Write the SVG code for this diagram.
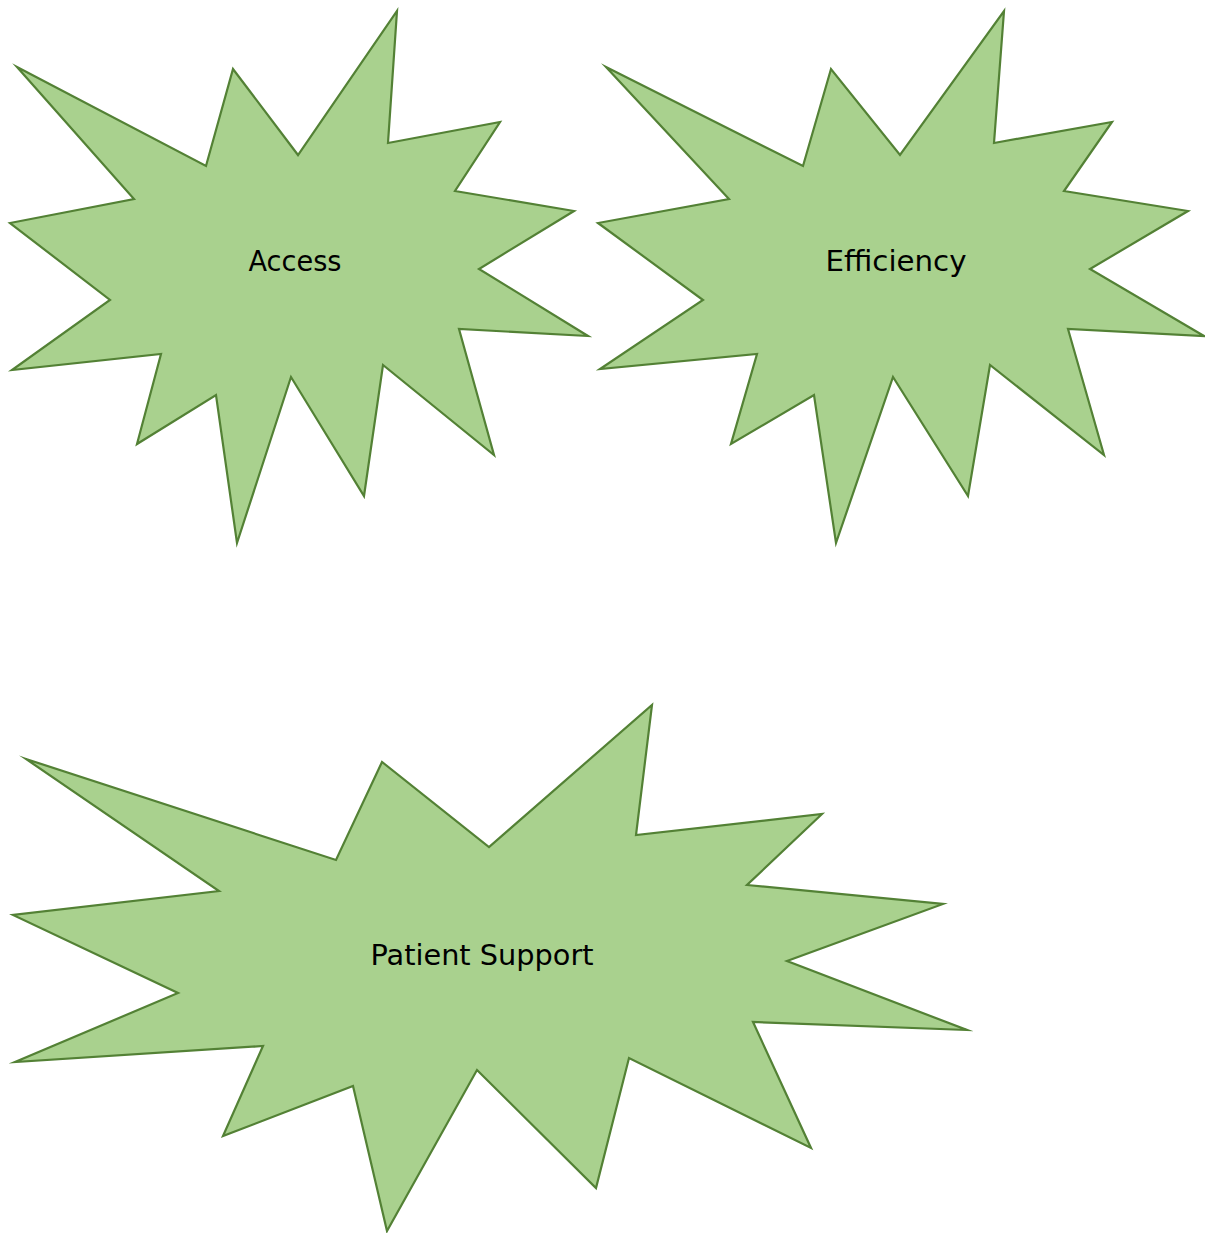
<svg xmlns="http://www.w3.org/2000/svg" width="1205" height="1233" viewBox="0 0 1205 1233">
  <style>
    .burst { fill: #a9d18e; stroke: #538135; stroke-width: 2.2; stroke-linejoin: miter; stroke-miterlimit: 20; }
    .label { font-family: "DejaVu Sans", "Liberation Sans", sans-serif; font-size: 28px; fill: #000000; text-anchor: middle; }
  </style>
  <rect width="1205" height="1233" fill="#ffffff"/>
  <g id="node-access">
    <polygon class="burst" points="17,67 206,166 233,69 298,155 397,11 388,143 500,122 455,191 574,211 479,269 588,336 459,329 494,455 383,365 364,496 291,377 237,543 216,395 137,444 161,354 12,370 110,300 10,223 134,199"/>
    <text class="label" x="295" y="271" textLength="93" lengthAdjust="spacingAndGlyphs">Access</text>
  </g>
  <g id="node-efficiency">
    <polygon class="burst" points="606,67 803,166 831,69 900,155 1004,11 994,143 1112,122 1064,191 1188,211 1090,269 1204,336 1068,329 1104,455 990,365 968,496 893,377 836,543 814,395 731,444 757,354 600,369 703,300 598,223 729,199"/>
    <text class="label" x="896" y="271" textLength="141" lengthAdjust="spacingAndGlyphs">Efficiency</text>
  </g>
  <g id="node-patient-support">
    <polygon class="burst" points="26,759 336,860 382,762 489,847 652,705 636,835 822,814 747,885 943,904 787,961 967,1030 753,1022 811,1148 629,1058 596,1188 477,1070 387,1231 353,1086 223,1136 263,1046 15,1062 178,993 13,915 219,891"/>
    <text class="label" x="482" y="965" textLength="223" lengthAdjust="spacingAndGlyphs">Patient Support</text>
  </g>
  <g id="connectors"/>
</svg>
